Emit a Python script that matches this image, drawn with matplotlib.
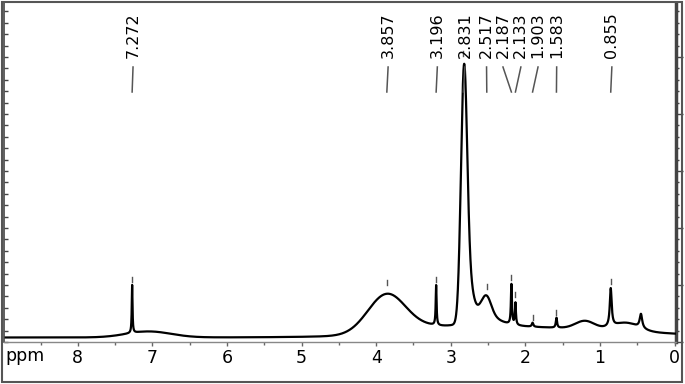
import numpy as np
import matplotlib
matplotlib.use("Agg")
import matplotlib.pyplot as plt
from matplotlib.patches import Rectangle
from matplotlib.ticker import MultipleLocator

# 1H NMR spectrum: peak components (ppm, height, half width, shape)
# heights are in screen-like intensity units (axis spans 0..339)
baseline = 4.5
peak_ppm   = [7.05, 7.272, 3.857, 3.30, 1.80, 3.196, 2.822, 2.745, 2.58, 2.517, 2.187, 2.133, 1.903, 1.583, 1.20, 0.855, 0.65, 0.45]
peak_h     = [6.0,  48.0,  40.0,  4.0,  9.0,  40.0,  248.0, 28.0,  22.0, 14.0,  40.0,  22.0,  4.0,   10.0,  8.0,  38.0,  8.0,  14.0]
peak_w     = [0.35, 0.006, 0.30,  0.30, 1.60, 0.007, 0.049, 0.06,  0.20, 0.07,  0.008, 0.008, 0.012, 0.010, 0.15, 0.015, 0.20, 0.02]
peak_shape = ['G',  'L',   'G',   'G',  'G',  'L',   'G',   'G',   'L',  'G',   'L',   'L',   'L',   'L',   'G',  'L',   'G',  'L']

# picked peaks with labels
pick_ppm    = [7.272, 3.857, 3.196, 2.831, 2.517, 2.187, 2.133, 1.903, 1.583, 0.855]
pick_labels = ['7.272', '3.857', '3.196', '2.831', '2.517', '2.187', '2.133', '1.903', '1.583', '0.855']
pick_top    = [54, 51, 54, 280, 47, 56, 39, 16, 21, 52]
label_ppm   = [7.26, 3.84, 3.18, 2.81, 2.52, 2.30, 2.06, 1.83, 1.58, 0.84]

x_ticks = [8, 7, 6, 5, 4, 3, 2, 1, 0]

ppm = np.linspace(9.0, -0.05, 12000)
spec = np.full_like(ppm, baseline)
for c, h, w, s in zip(peak_ppm, peak_h, peak_w, peak_shape):
    if s == 'L':
        spec += h / (1 + ((ppm - c) / w) ** 2)
    else:
        spec += h * np.exp(-np.log(2) * ((ppm - c) / w) ** 2)

W, H = 685, 384
fig = plt.figure(figsize=(W / 100, H / 100), dpi=100)
ax = fig.add_axes([4 / W, 1 - 342 / H, 672 / W, 339 / H])

ax.plot(ppm, spec, color='black', lw=1.6)
ax.set_xlim(8.99, -0.02)
ax.set_ylim(0, 339)

# peak markers, connectors and labels
for p, lp, top, lab in zip(pick_ppm, label_ppm, pick_top, pick_labels):
    ax.plot([p, p], [top + 6, top + 11], color='#555555', lw=1)
    ax.plot([lp, p], [275, 250], color='#555555', lw=1.1)
    ax.text(lp, 284, lab, rotation=90, ha='center', va='bottom', fontsize=11.5, color='black')

ax.set_xticks(x_ticks)
ax.set_xticklabels([str(t) for t in x_ticks])
ax.xaxis.set_minor_locator(MultipleLocator(0.5))
ax.tick_params(axis='x', which='major', direction='out', length=3, width=1, color='#666666', labelsize=12.5, pad=2)
ax.tick_params(axis='x', which='minor', direction='out', length=2, width=1, color='#666666')

# left ticks point inward, right ticks outward (both to the right)
ax.yaxis.set_major_locator(MultipleLocator(57))
ax.yaxis.set_minor_locator(MultipleLocator(11.4))
ax.tick_params(axis='y', which='both', left=True, right=False, labelleft=False)
ax.tick_params(axis='y', which='major', direction='in', length=3, width=1, color='#444444')
ax.tick_params(axis='y', which='minor', direction='in', length=3, width=1, color='#444444')

ax2 = ax.secondary_yaxis('right')
ax2.yaxis.set_major_locator(MultipleLocator(57))
ax2.yaxis.set_minor_locator(MultipleLocator(11.4))
ax2.tick_params(axis='y', which='major', direction='out', length=5, width=1, color='#444444', labelright=False)
ax2.tick_params(axis='y', which='minor', direction='out', length=2.5, width=1, color='#444444')
ax2.spines['right'].set_color('#444444')
ax2.spines['right'].set_linewidth(2.5)

ax.spines['top'].set_visible(False)
ax.spines['right'].set_visible(False)
ax.spines['left'].set_color('#444444')
ax.spines['left'].set_linewidth(1.2)
ax.spines['bottom'].set_color('#888888')
ax.spines['bottom'].set_linewidth(1)

fig.text(5 / W, 1 - 361 / H, 'ppm', ha='left', va='baseline', fontsize=12.5)

fig.patches.append(Rectangle((1.5 / W, 2 / H), 680.5 / W, 380.5 / H, transform=fig.transFigure,
                             fill=False, edgecolor='#555555', lw=1.5))

fig.savefig('out.png', dpi=100)
